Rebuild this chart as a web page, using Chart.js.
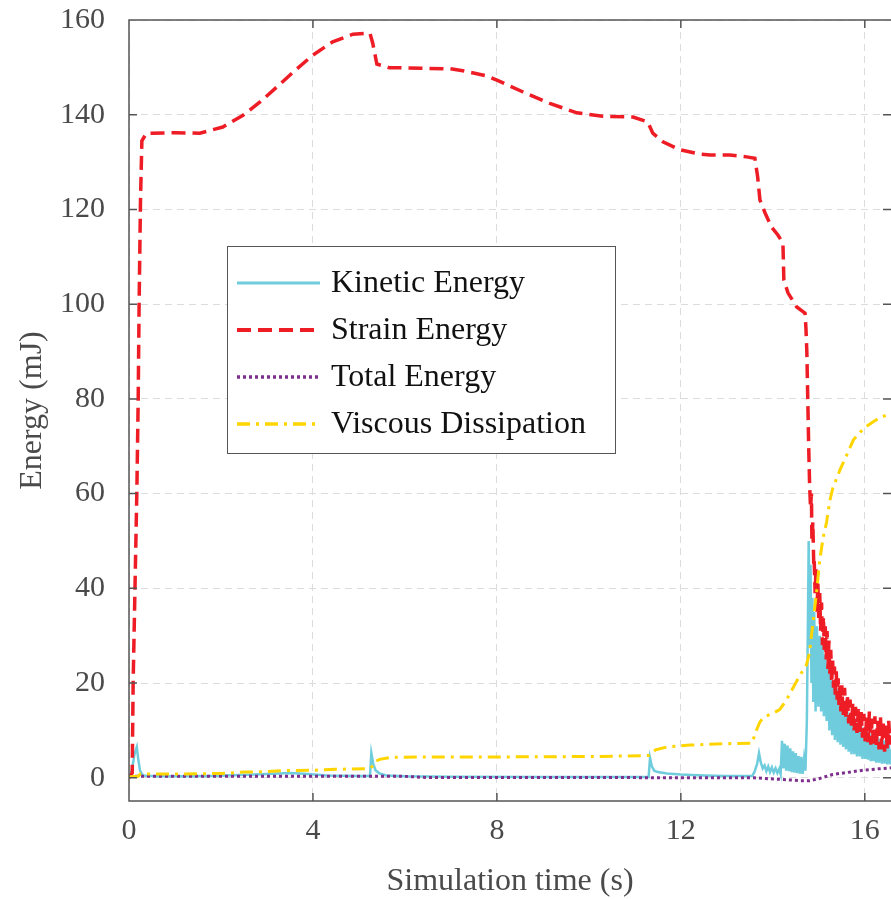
<!DOCTYPE html>
<html>
<head>
<meta charset="utf-8">
<script src="https://cdn.jsdelivr.net/npm/chart.js@4.4.1/dist/chart.umd.min.js"></script>
<style>
  html, body { margin: 0; padding: 0; background: #fff; overflow: hidden; }
</style>
</head>
<body>
<canvas id="energy-chart" width="891" height="899"></canvas>
<script>
// ── data ──────────────────────────────────────────────────
const SERIES_LABELS = ["Kinetic Energy", "Strain Energy", "Total Energy", "Viscous Dissipation"];
const X_TICKS = [0, 4, 8, 12, 16];
const Y_TICKS = [0, 20, 40, 60, 80, 100, 120, 140, 160];

// kinetic energy (mJ)
const KE_TIME = [
  0, 0.06, 0.12, 0.17, 0.2, 0.24, 0.3, 0.6, 1.2, 1.8, 2.4, 3.0, 3.5, 3.9, 4.3, 5.0, 5.24,
  5.27, 5.31, 5.36, 5.45, 5.6, 6.0, 7.0, 9.0, 11.3, 11.33, 11.37, 11.42, 11.5, 11.7, 12.0,
  12.5, 13.0, 13.55, 13.6, 13.66, 13.7, 13.74, 13.78, 13.82, 13.86, 13.9, 13.94, 13.98,
  14.02, 14.06, 14.1, 14.14, 14.17, 14.2, 14.23, 14.26, 14.29, 14.32, 14.35, 14.38, 14.41,
  14.44, 14.47, 14.5, 14.53, 14.56, 14.59, 14.62, 14.65, 14.68, 14.71, 14.74, 14.76, 14.78,
  14.8, 14.82, 14.84, 14.86, 14.88, 14.9, 14.93, 14.96, 14.99, 15.02, 15.05, 15.08, 15.11,
  15.14, 15.17, 15.2, 15.23, 15.26, 15.29, 15.32, 15.35, 15.38, 15.41, 15.44, 15.47, 15.5,
  15.53, 15.56, 15.59, 15.62, 15.65, 15.68, 15.71, 15.74, 15.77, 15.8, 15.83, 15.86, 15.89,
  15.92, 15.95, 15.98, 16.01, 16.04, 16.07, 16.1, 16.13, 16.16, 16.19, 16.22, 16.25, 16.28,
  16.31, 16.34, 16.37, 16.4, 16.43, 16.46, 16.49, 16.52, 16.55, 16.57,
];
const KE_VALUE = [
  0, 1.5, 5, 6.5, 4, 1.5, 0.5, 0.3, 0.3, 0.4, 0.6, 0.8, 1.0, 0.8, 0.5, 0.4, 0.4,
  5.2, 3.0, 1.6, 0.9, 0.5, 0.3, 0.2, 0.15, 0.15, 4.2, 2.4, 1.5, 1.2, 0.9, 0.7,
  0.5, 0.4, 0.4, 1.2, 3.0, 5.2, 3.2, 2.0, 2.6, 1.4, 2.4, 1.2, 2.2,
  1.1, 2.0, 1.0, 1.9, 0.8, 7.8, 2.0, 7.2, 1.5, 6.8, 1.4, 6.2, 1.2,
  5.6, 1.1, 5.2, 1.0, 4.6, 0.9, 4.4, 0.8, 4.0, 1.5, 12, 30, 50,
  28, 45, 20, 38, 16, 35, 14, 32, 15, 30, 14, 28, 13,
  26, 12, 24, 10, 22, 9, 20, 8, 19, 7.5, 17, 7, 16,
  6.5, 15, 6, 14, 5.5, 13.5, 5, 13, 5, 12, 4.5, 11.5, 4.5,
  11, 4, 10.5, 4, 10, 3.8, 9.5, 3.5, 9, 3.5, 8.8, 3.2, 8.5,
  3.2, 8.2, 3, 8, 3, 7.8, 2.8, 7.5, 2.8, 6,
];

// strain energy (mJ)
const SE_TIME = [
  0, 0.07, 0.09, 0.13, 0.17, 0.2, 0.22, 0.25, 0.28, 0.38, 1.0, 1.54, 2.04, 2.48, 2.85,
  3.22, 3.57, 4.0, 4.43, 4.87, 5.24, 5.3, 5.39, 5.67, 5.89, 6.98, 7.26, 7.78, 8.0, 8.57,
  9.15, 9.74, 10.3, 10.96, 11.28, 11.39, 11.61, 11.98, 12.41, 12.63, 13.07, 13.43, 13.61,
  13.67, 13.72, 13.83, 13.97, 14.11, 14.22, 14.24, 14.33, 14.52, 14.7, 14.72, 14.74,
  14.76, 14.78, 14.8, 14.82, 14.84, 14.85, 14.87, 14.89,
  14.9, 14.92, 14.94, 14.96, 14.98, 15.0, 15.02, 15.04, 15.06, 15.08, 15.1, 15.12, 15.14,
  15.16, 15.18, 15.2, 15.22, 15.24, 15.26, 15.28, 15.3, 15.32, 15.34, 15.36, 15.38, 15.4,
  15.42, 15.44, 15.46, 15.48, 15.5, 15.53, 15.56, 15.59, 15.62, 15.65, 15.68, 15.71, 15.74,
  15.77, 15.8, 15.83, 15.86, 15.89, 15.92, 15.95, 15.98, 16.01, 16.04, 16.07, 16.1, 16.13,
  16.16, 16.19, 16.22, 16.25, 16.28, 16.31, 16.34, 16.37, 16.4, 16.43, 16.46, 16.49, 16.52,
  16.55, 16.57,
];
const SE_VALUE = [
  0, 1, 20, 40, 60, 80, 100, 122, 134.5, 136.1, 136.2, 136.1, 137.4, 139.9, 142.7,
  145.9, 149.0, 152.6, 155.4, 157.0, 157.2, 155.1, 150.7, 149.9, 149.9, 149.7, 149.3, 148.2, 147.3, 144.8,
  142.4, 140.4, 139.7, 139.5, 138.5, 136.1, 134.3, 132.6, 131.7, 131.5, 131.5, 131.1, 130.8,
  126.9, 122.0, 119.3, 116.3, 114.6, 112.9, 105.1, 102.4, 99.4, 98.1, 95, 90,
  80, 70, 62, 57, 60, 50, 54, 45,
  46, 39, 44, 35, 41, 33, 39, 31, 37, 28, 34, 27, 32,
  25, 31, 23, 29, 22, 27, 20, 25, 19, 23.5, 17, 22.5, 16.5,
  21, 15, 20, 14, 19.5, 13, 19, 12.5, 17.5, 11.5, 16.5, 11, 16,
  10, 15, 9.5, 14.5, 9, 14, 8.5, 13.5, 7.5, 13, 7.5, 14, 7,
  12.5, 6.5, 13, 6.5, 12, 6, 13, 6, 12, 5.5, 11, 6, 12,
  7, 9,
];

// total energy (mJ)
const TE_TIME  = [0, 3.0, 6.0, 6.5, 10.0, 13.6, 14.1, 14.6, 14.8, 15.0, 15.3, 15.6, 15.96, 16.3, 16.57];
const TE_VALUE = [0.3, 0.3, 0.3, 0.05, 0.05, 0, -0.3, -0.6, -0.6, -0.2, 0.7, 1.1, 1.6, 1.9, 2.1];

// viscous dissipation (mJ)
const VD_TIME = [
  0, 0.2, 0.25, 1.0, 2.0, 2.5, 3.0, 3.3, 4.0, 4.5, 5.2, 5.28, 5.35, 5.45, 5.7, 6.3, 8.0,
  10.2, 11.3, 11.38, 11.45, 11.7, 12.2, 13.0, 13.55, 13.62, 13.72, 13.8, 14.0, 14.15, 14.3,
  14.44, 14.6, 14.73, 14.8, 14.84, 14.9, 14.95, 15.02, 15.1, 15.17, 15.24, 15.3, 15.46,
  15.6, 15.75, 15.9, 16.04, 16.2, 16.33, 16.45, 16.57,
];
const VD_VALUE = [
  0.2, 0.3, 0.8, 0.8, 0.9, 1.2, 1.3, 1.5, 1.6, 1.8, 1.9, 2.3, 3.4, 3.9, 4.3, 4.4, 4.4,
  4.5, 4.7, 5.3, 5.9, 6.5, 6.9, 7.2, 7.3, 9.5, 11.8, 12.8, 13.6, 14.4, 16.5,
  19, 21.8, 23.8, 26.5, 30, 35, 39, 46, 51, 54, 58.5, 61, 65,
  68, 71.3, 73, 74.2, 75.3, 76, 76.5, 77,
];

const X_MIN = 0, X_MAX = 16.57, Y_MIN = -4.9, Y_MAX = 160;

const SERIF = "'Liberation Serif', 'DejaVu Serif', serif";
const AXIS_GREY = "#555555";
const TEXT_GREY = "#4a4a4a";

const toPoints = (ts, vs) => ts.map((t, i) => ({ x: t, y: vs[i] }));

const STYLES = [
  { color: "#6ECCDD", dash: [],             width: 2.5, order: 4 },
  { color: "#EE1C25", dash: [14, 7],        width: 3.5, order: 3 },
  { color: "#7E2F8E", dash: [3, 3],         width: 3,   order: 2 },
  { color: "#FFD500", dash: [13, 6, 3, 6],  width: 3,   order: 1 },
];
const SERIES = [
  toPoints(KE_TIME, KE_VALUE),
  toPoints(SE_TIME, SE_VALUE),
  toPoints(TE_TIME, TE_VALUE),
  toPoints(VD_TIME, VD_VALUE),
];

// ── frame, inward ticks, legend box ───────────────────────
const framePlugin = {
  id: "frame",
  afterDatasetsDraw(chart) {
    const { ctx, chartArea: a, scales } = chart;
    const tick = 8;
    ctx.save();
    ctx.strokeStyle = AXIS_GREY;
    ctx.lineWidth = 1.5;
    ctx.setLineDash([]);
    ctx.beginPath();
    ctx.moveTo(a.right + 2, a.top); ctx.lineTo(a.left, a.top);
    ctx.lineTo(a.left, a.bottom); ctx.lineTo(a.right + 2, a.bottom);
    X_TICKS.forEach(v => {
      const px = scales.x.getPixelForValue(v);
      ctx.moveTo(px, a.bottom); ctx.lineTo(px, a.bottom - tick);
      ctx.moveTo(px, a.top);    ctx.lineTo(px, a.top + tick);
    });
    Y_TICKS.forEach(v => {
      const py = scales.y.getPixelForValue(v);
      ctx.moveTo(a.left, py);  ctx.lineTo(a.left + tick, py);
      ctx.moveTo(a.right, py); ctx.lineTo(a.right - tick, py);
    });
    ctx.stroke();
    ctx.restore();
  },
};

const legendPlugin = {
  id: "boxLegend",
  afterDraw(chart) {
    const { ctx } = chart;
    const box = { x: 227.5, y: 246.5, w: 388, h: 207 };
    ctx.save();
    ctx.fillStyle = "#fff";
    ctx.fillRect(box.x, box.y, box.w, box.h);
    ctx.strokeStyle = "#555";
    ctx.lineWidth = 1;
    ctx.strokeRect(box.x, box.y, box.w, box.h);
    ctx.font = "32px " + SERIF;
    ctx.textBaseline = "middle";
    ctx.fillStyle = "#111";
    chart.data.datasets.forEach((ds, i) => {
      const y = 283 + i * 47;
      ctx.beginPath();
      ctx.strokeStyle = ds.borderColor;
      ctx.lineWidth = ds.borderWidth + 0.5;
      ctx.setLineDash(ds.borderDash);
      ctx.moveTo(237, y); ctx.lineTo(320, y);
      ctx.stroke();
      ctx.setLineDash([]);
      ctx.fillText(ds.label, 331, y + 1);
    });
    ctx.restore();
  },
};

// ── chart ─────────────────────────────────────────────────
new Chart(document.getElementById("energy-chart"), {
  type: "line",
  data: {
    datasets: SERIES_LABELS.map((label, i) => ({
      label,
      data: SERIES[i],
      borderColor: STYLES[i].color,
      borderDash: STYLES[i].dash,
      borderWidth: STYLES[i].width,
      order: STYLES[i].order,
      pointRadius: 0,
      tension: 0,
      fill: false,
    })),
  },
  options: {
    responsive: false,
    animation: false,
    devicePixelRatio: 1,
    layout: { padding: { top: 20, right: 0, left: 0, bottom: 0 } },
    plugins: { legend: { display: false }, tooltip: { enabled: false } },
    scales: {
      x: {
        type: "linear",
        min: X_MIN,
        max: X_MAX,
        afterBuildTicks: s => { s.ticks = X_TICKS.map(v => ({ value: v })); },
        afterFit: s => { s.height = 98; s.paddingLeft = 0; s.paddingRight = 0; },
        grid: { color: "#dcdcdc", lineWidth: 1, drawTicks: false },
        border: { display: false, dash: [7, 5] },
        ticks: { color: TEXT_GREY, font: { family: SERIF, size: 30 }, padding: 12, maxRotation: 0 },
        title: {
          display: true, text: "Simulation time (s)", color: TEXT_GREY,
          font: { family: SERIF, size: 32, lineHeight: 1.1 }, padding: { top: 0, bottom: 0 },
        },
      },
      y: {
        type: "linear",
        min: Y_MIN,
        max: Y_MAX,
        afterBuildTicks: s => { s.ticks = Y_TICKS.map(v => ({ value: v })); },
        afterFit: s => { s.width = 129; s.paddingTop = 0; s.paddingBottom = 0; },
        grid: { color: "#dcdcdc", lineWidth: 1, drawTicks: false },
        border: { display: false, dash: [7, 5] },
        ticks: { color: TEXT_GREY, font: { family: SERIF, size: 30 }, padding: 24 },
        title: {
          display: true, text: "Energy (mJ)", color: TEXT_GREY,
          font: { family: SERIF, size: 32, lineHeight: 1.1 }, padding: { top: 15, bottom: 0 },
        },
      },
    },
  },
  plugins: [framePlugin, legendPlugin],
});
</script>
</body>
</html>
